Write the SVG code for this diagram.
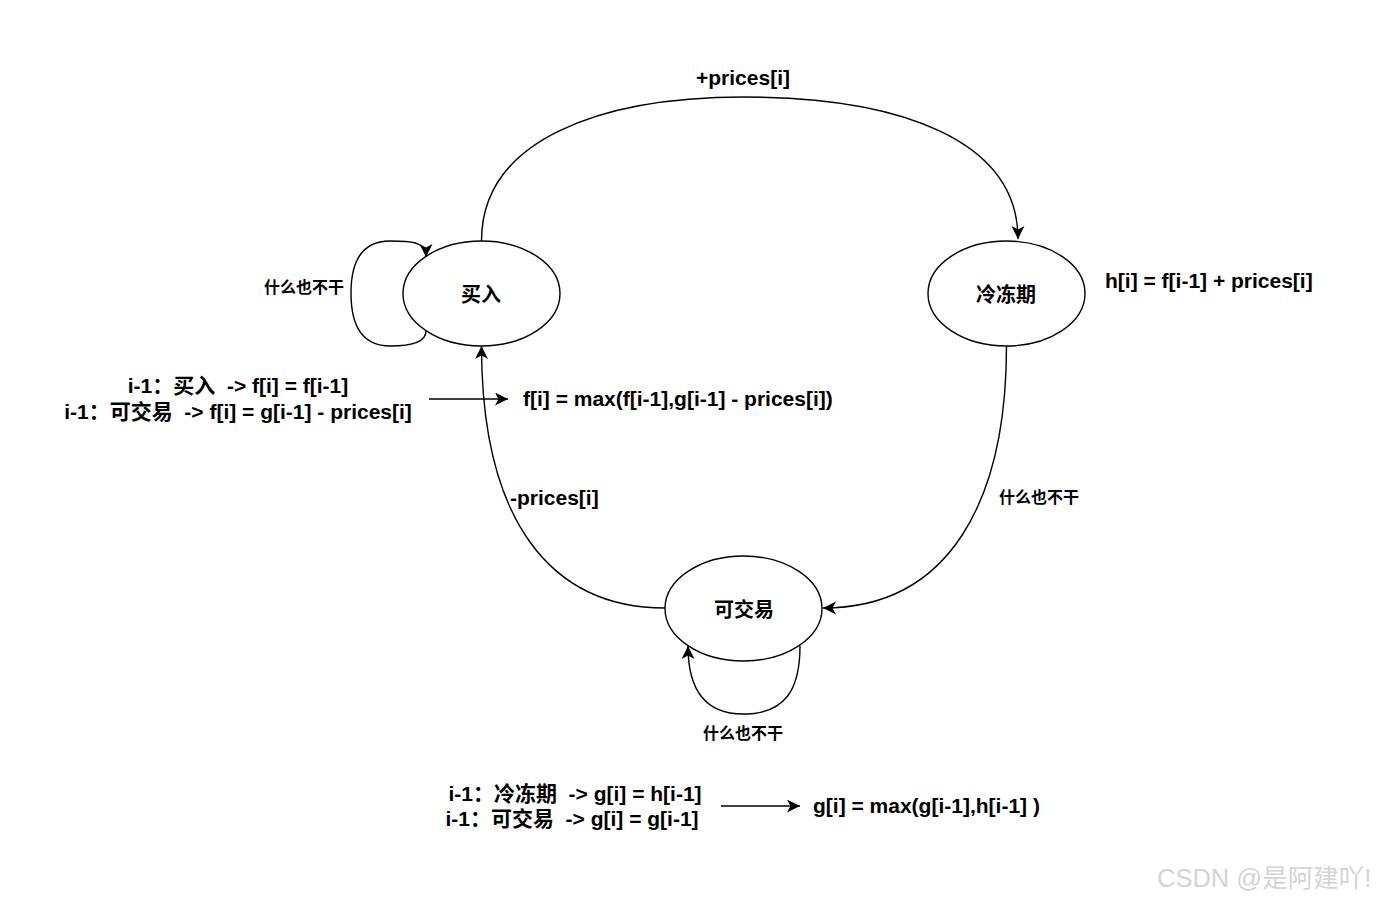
<svg xmlns="http://www.w3.org/2000/svg" width="1376" height="901" viewBox="0 0 1376 901">
<style>
text{font-family:"Liberation Sans","Noto Sans CJK SC",sans-serif;font-weight:700;fill:#000;white-space:pre}
.l{font-size:21px}
.n{font-size:20px;text-anchor:middle}
.s{font-size:16px;text-anchor:middle}
.node{fill:#fff;stroke:#000;stroke-width:1.4}
.c{fill:none;stroke:#000;stroke-width:1.4}
</style>
<defs><marker id="a" markerUnits="userSpaceOnUse" markerWidth="14" markerHeight="14" refX="13" refY="6.500" orient="auto"><path d="M0 0L13 6.500L0 13L3.500 6.500Z" fill="#000"/></marker></defs>
<rect width="1376" height="901" fill="#fff"/>
<g id="connectors">
<path class="c" marker-end="url(#a)" d="M481.500 241C481.500 140 600 97 744 97C900 97 1018 140 1018 239"/>
<path class="c" marker-end="url(#a)" d="M1006.500 346C1006.500 500 950 608 823 608"/>
<path class="c" marker-end="url(#a)" d="M665 608C550 608 481.500 520 481.500 346"/>
<path class="c" marker-end="url(#a)" d="M426 331C426 342 410 346 390 346C362 346 351 325 351 293C351 262 362 241 390 241C410 241 426 241 426 257"/>
<path class="c" marker-end="url(#a)" d="M800 646C800 690 785 714 743 714C705 714 688 690 688 646"/>
<path class="c" marker-end="url(#a)" d="M429 399H508"/>
<path class="c" marker-end="url(#a)" d="M721 806H800"/>
</g>
<g id="node-buy"><ellipse class="node" cx="481.500" cy="293.500" rx="78.500" ry="52.500"/><text class="n" x="481" y="302">买入</text></g>
<g id="node-freeze"><ellipse class="node" cx="1006.500" cy="293.500" rx="78.500" ry="52.500"/><text class="n" x="1006" y="302">冷冻期</text></g>
<g id="node-trade"><ellipse class="node" cx="743.500" cy="608.500" rx="78.500" ry="52.500"/><text class="n" x="744" y="617">可交易</text></g>
<g id="labels">
<text class="l" x="743" y="85" text-anchor="middle">+prices[i]</text>
<text class="l" x="1105" y="288">h[i] = f[i-1] + prices[i]</text>
<text class="s" x="304" y="293">什么也不干</text>
<text class="l" x="238" y="393" text-anchor="middle">i-1：买入  -&gt; f[i] = f[i-1]</text>
<text class="l" x="238" y="419" text-anchor="middle">i-1：可交易  -&gt; f[i] = g[i-1] - prices[i]</text>
<text class="l" x="523" y="406">f[i] = max(f[i-1],g[i-1] - prices[i])</text>
<text class="l" x="510" y="505">-prices[i]</text>
<text class="s" x="1039" y="503">什么也不干</text>
<text class="s" x="743" y="739">什么也不干</text>
<text class="l" x="575" y="801" text-anchor="middle">i-1：冷冻期  -&gt; g[i] = h[i-1]</text>
<text class="l" x="572" y="826" text-anchor="middle">i-1：可交易  -&gt; g[i] = g[i-1]</text>
<text class="l" x="813" y="813">g[i] = max(g[i-1],h[i-1] )</text>
<text x="1157" y="887" style="font-size:25.500px;font-weight:400;fill:#d4d4d4">CSDN @是阿建吖!</text>
</g>
</svg>
